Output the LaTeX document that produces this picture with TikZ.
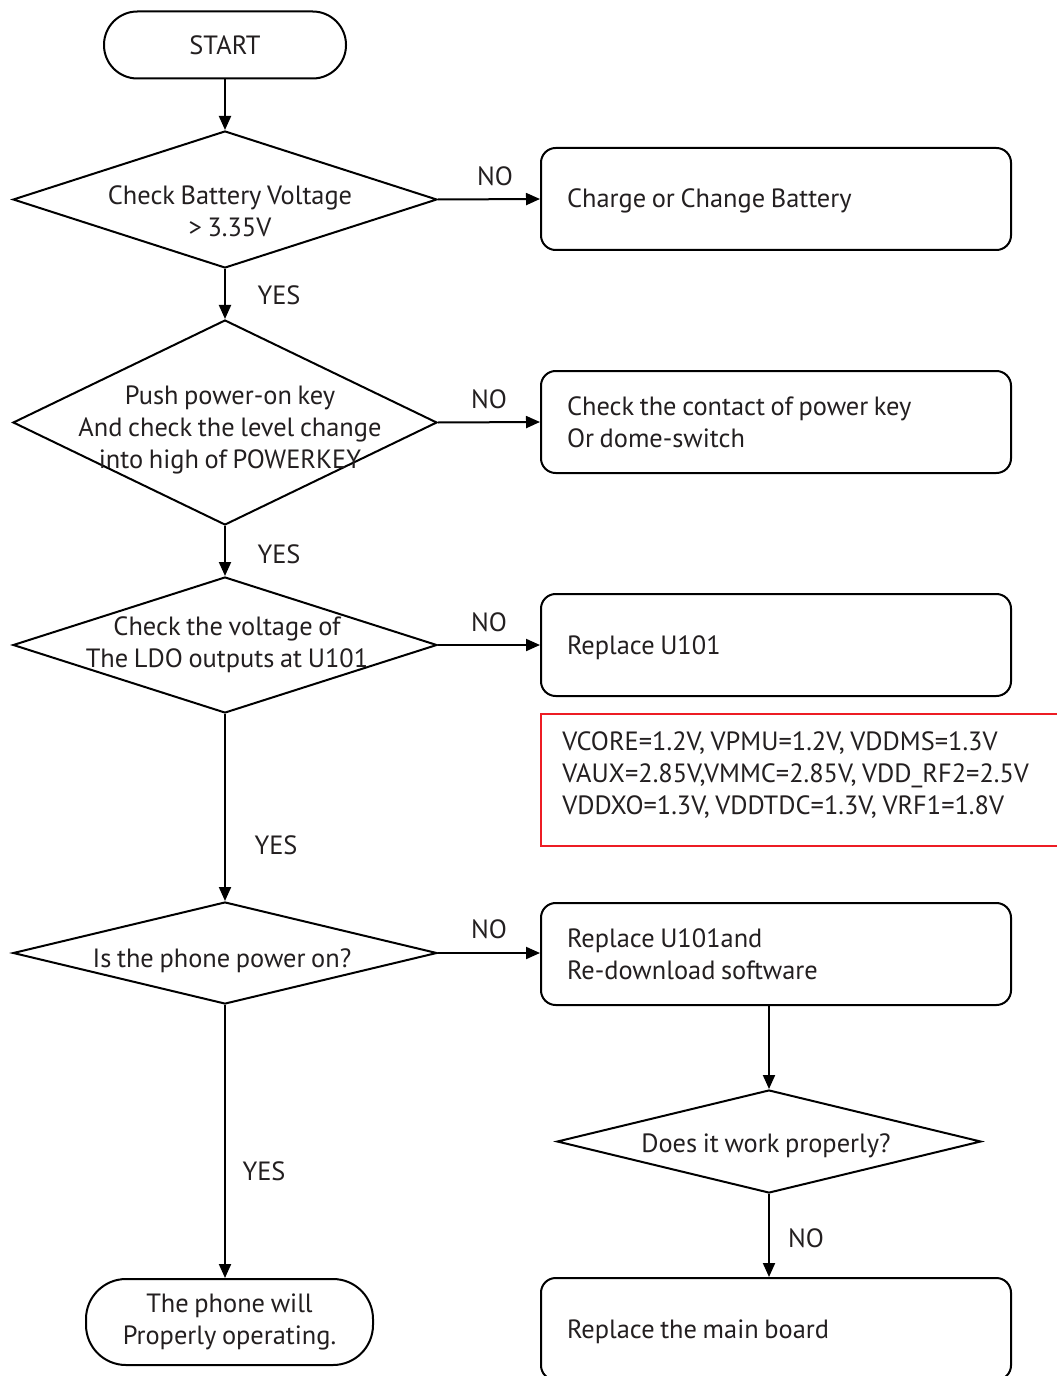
\documentclass[tikz,border=0pt]{standalone}
\usepackage{fontspec}
\setmainfont[WordSpace=0.8]{PT Sans}
\usetikzlibrary{shapes.geometric,arrows.meta}
\definecolor{ink}{HTML}{231F20}
\definecolor{redline}{HTML}{ED1C24}
\begin{document}
\begin{tikzpicture}[x=0.75pt,y=-0.75pt,
  every node/.style={font=\fontsize{19.8}{24}\selectfont, text=ink},
  line/.style={draw=black, line width=1.5pt},
  arrow/.style={line, -{Triangle[length=10.5pt,width=9pt]}},
  terminal/.style={draw=black, line width=1.5pt, rounded corners=25pt, inner sep=0pt, align=center},
  decision/.style={draw=black, line width=1.5pt, diamond, inner sep=0pt},
  process/.style={draw=black, line width=1.5pt, rounded corners=11pt, minimum height=76.5pt,
     text width=313.5pt, inner xsep=19.5pt, inner ysep=0pt, align=flush left},
  lowtext/.style={text height=20pt, text depth=6.5pt},
  dtext/.style={align=center, inner sep=0pt},
  lbl/.style={inner sep=0pt}]
\useasboundingbox (0,0) rectangle (1056,1376);
\fill[white] (0,0) rectangle (1056,1376);

% nodes
\node[terminal, minimum width=181.5pt, minimum height=50.25pt] (start) at (225,45) {START};

\node[decision, minimum width=318pt, minimum height=102.75pt] (d1) at (225,199.5) {};
\node[dtext] (d1t) at (230,211) {Check Battery Voltage\\ > 3.35V};
\node[process, lowtext] (b1) at (776,199) {Charge or Change Battery};

\node[decision, minimum width=318pt, minimum height=153.75pt] (d2) at (225,422.5) {};
\node[dtext] (d2t) at (230,430) {Push power-on key\\ And check the level change\\ into high of POWERKEY};
\node[process] (b2) at (776,422) {Check the contact of power key\\ Or dome-switch};

\node[decision, minimum width=318pt, minimum height=102pt] (d3) at (225,645) {};
\node[dtext] (d3t) at (227,645) {Check the voltage of\\ The LDO outputs at U101};
\node[process, lowtext] (b3) at (776,645) {Replace U101};

\node[draw=redline, line width=1.2pt, minimum width=396pt, minimum height=99pt, inner sep=0pt] (note) at (805,780) {};
\node[anchor=west, align=flush left, inner sep=0pt] (notet) at (562,775) {VCORE=1.2V, VPMU=1.2V, VDDMS=1.3V\\ VAUX=2.85V,VMMC=2.85V, VDD\_RF2=2.5V\\ VDDXO=1.3V, VDDTDC=1.3V, VRF1=1.8V};

\node[decision, minimum width=318pt, minimum height=76.5pt] (d4) at (225,953) {};
\node[dtext] (d4t) at (222,961) {Is the phone power on?};
\node[process] (b4) at (776,954) {Replace U101and\\ Re-download software};

\node[decision, minimum width=318pt, minimum height=77.25pt] (d5) at (769,1141.5) {};
\node[dtext] (d5t) at (766,1146) {Does it work properly?};

\node[process, lowtext] (b6) at (776,1329) {Replace the main board};
\node[terminal, rounded corners=30pt, minimum width=215.25pt, minimum height=64.5pt] (end) at (229.5,1322) {The phone will\\ Properly operating.};

% connectors
\draw[arrow] (start.south) -- (d1.north);
\draw[arrow] (d1.east) -- (b1.west);
\draw[arrow] (d1.south) -- (d2.north);
\draw[arrow] (d2.east) -- (b2.west);
\draw[arrow] (d2.south) -- (d3.north);
\draw[arrow] (d3.east) -- (b3.west);
\draw[arrow] (d3.south) -- (d4.north);
\draw[arrow] (d4.east) -- (d4.east -| b4.west);
\draw[arrow] (d4.south) -- (d4.south |- end.north);
\draw[arrow] (b4.south -| d5.north) -- (d5.north);
\draw[arrow] (d5.south) -- (d5.south |- b6.north);

% labels
\node[lbl] (no1) at (495,176) {NO};
\node[lbl] (no2) at (489,399) {NO};
\node[lbl] (no3) at (489,622) {NO};
\node[lbl] (no4) at (489,929) {NO};
\node[lbl] (no5) at (806,1238) {NO};
\node[lbl] (yes1) at (279,295) {YES};
\node[lbl] (yes2) at (279,554) {YES};
\node[lbl] (yes3) at (276,845) {YES};
\node[lbl] (yes4) at (264,1171) {YES};
\end{tikzpicture}
\end{document}
